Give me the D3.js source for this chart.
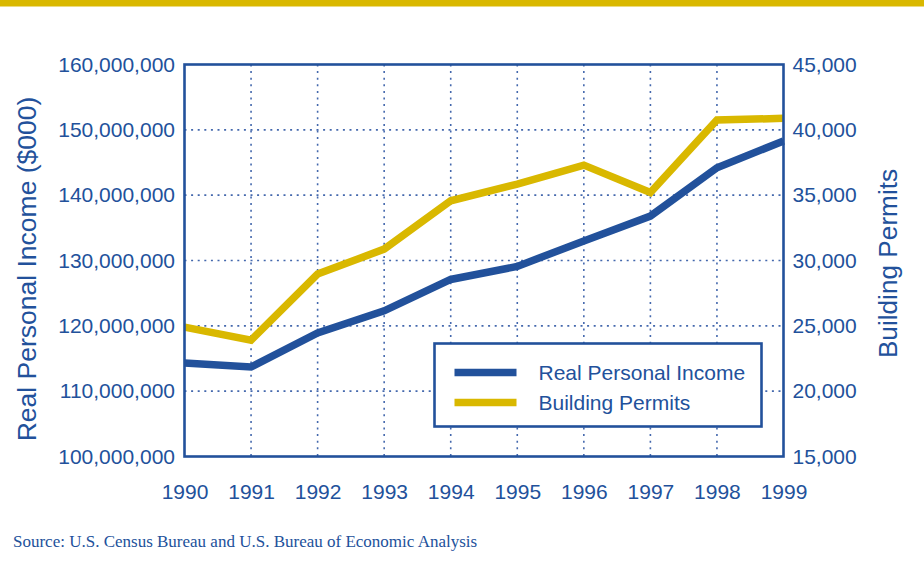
<!DOCTYPE html>
<html>
<head>
<meta charset="utf-8">
<script src="https://cdn.jsdelivr.net/npm/d3@7"></script>
<style>
  body { margin: 0; background: #fff; }
  svg { display: block; font-family: 'Liberation Sans', Arial, sans-serif; }
</style>
</head>
<body>
<div id="chart"></div>
<script>
// values
const years = [1990, 1991, 1992, 1993, 1994, 1995, 1996, 1997, 1998, 1999]
const income = [114300000, 113700000, 118900000, 122300000, 127100000, 129100000, 133000000, 136800000, 144200000, 148300000]
const permits = [24900, 23900, 28960, 30870, 34570, 35850, 37300, 35210, 40750, 40880]
const incomeTicks = [100000000, 110000000, 120000000, 130000000, 140000000, 150000000, 160000000]
const permitTicks = [15000, 20000, 25000, 30000, 35000, 40000, 45000]

const width = 924, height = 561
const blue = '#22519b', gold = '#d9b800', gridBlue = '#4468ad'
const margin = { top: 64.5, right: 140.5, bottom: 104.5, left: 184.5 }

const svg = d3.select('#chart').append('svg')
  .attr('width', width)
  .attr('height', height)

// top band
svg.append('rect')
  .attr('x', 0).attr('y', 0)
  .attr('width', width).attr('height', 6.5)
  .attr('fill', gold)

const x = d3.scaleLinear()
  .domain([1990, 1999])
  .range([margin.left, width - margin.right])

const yL = d3.scaleLinear()
  .domain([100000000, 160000000])
  .range([height - margin.bottom, margin.top])

const yR = d3.scaleLinear()
  .domain([15000, 45000])
  .range([height - margin.bottom, margin.top])

const fmt = d3.format(',')

// dotted grid
const grid = svg.append('g')
  .attr('stroke', gridBlue)
  .attr('stroke-width', 1.6)
  .attr('stroke-dasharray', '2,4.6')

grid.selectAll('line.v')
  .data(years.slice(1, -1))
  .join('line')
    .attr('class', 'v')
    .attr('x1', d => x(d)).attr('x2', d => x(d))
    .attr('y1', yL.range()[1]).attr('y2', yL.range()[0])

grid.selectAll('line.h')
  .data(incomeTicks.slice(1, -1))
  .join('line')
    .attr('class', 'h')
    .attr('y1', d => yL(d)).attr('y2', d => yL(d))
    .attr('x1', x.range()[0]).attr('x2', x.range()[1])

// axes (labels only, frame drawn separately)
const leftAxis = svg.append('g')
  .attr('transform', `translate(${x.range()[0]},0)`)
  .call(d3.axisLeft(yL).tickValues(incomeTicks).tickFormat(fmt).tickSize(0).tickPadding(9.5))
const rightAxis = svg.append('g')
  .attr('transform', `translate(${x.range()[1]},0)`)
  .call(d3.axisRight(yR).tickValues(permitTicks).tickFormat(fmt).tickSize(0).tickPadding(9))
const bottomAxis = svg.append('g')
  .attr('transform', `translate(0,${yL.range()[0]})`)
  .call(d3.axisBottom(x).tickValues(years).tickFormat(d3.format('d')).tickSize(0).tickPadding(28))

;[leftAxis, rightAxis, bottomAxis].forEach(a => {
  a.select('.domain').remove()
  a.selectAll('text')
    .attr('fill', blue)
    .style('font-size', '21px')
    .style('font-family', "'Liberation Sans', Arial, sans-serif")
})
bottomAxis.selectAll('text').attr('dy', '0.71em')

// lines
const lineIncome = d3.line()
  .x((d, i) => x(years[i]))
  .y(d => yL(d))
const linePermits = d3.line()
  .x((d, i) => x(years[i]))
  .y(d => yR(d))

svg.append('path')
  .datum(permits)
  .attr('d', linePermits)
  .attr('fill', 'none')
  .attr('stroke', gold)
  .attr('stroke-width', 7.5)
  .attr('stroke-linejoin', 'miter')

svg.append('path')
  .datum(income)
  .attr('d', lineIncome)
  .attr('fill', 'none')
  .attr('stroke', blue)
  .attr('stroke-width', 7.5)
  .attr('stroke-linejoin', 'miter')

// frame
svg.append('rect')
  .attr('x', x.range()[0]).attr('y', yL.range()[1])
  .attr('width', x.range()[1] - x.range()[0])
  .attr('height', yL.range()[0] - yL.range()[1])
  .attr('fill', 'none')
  .attr('stroke', blue)
  .attr('stroke-width', 2.6)

// axis titles
svg.append('text')
  .attr('transform', `translate(36,${(yL.range()[0] + yL.range()[1]) / 2 + 8.5}) rotate(-90)`)
  .attr('text-anchor', 'middle')
  .attr('fill', blue)
  .style('font-size', '26.5px')
  .text('Real Personal Income ($000)')

svg.append('text')
  .attr('transform', `translate(897,${(yL.range()[0] + yL.range()[1]) / 2 + 3}) rotate(-90)`)
  .attr('text-anchor', 'middle')
  .attr('fill', blue)
  .style('font-size', '26.2px')
  .text('Building Permits')

// legend
const series = [
  { name: 'Real Personal Income', color: blue },
  { name: 'Building Permits', color: gold }
]
const legend = svg.append('g').attr('transform', 'translate(434.5,343.5)')
legend.append('rect')
  .attr('width', 327).attr('height', 83)
  .attr('fill', '#fff')
  .attr('stroke', blue)
  .attr('stroke-width', 2.6)
const item = legend.selectAll('g.item')
  .data(series)
  .join('g')
    .attr('class', 'item')
    .attr('transform', (d, i) => `translate(0,${29 + i * 30})`)
item.append('line')
  .attr('x1', 20).attr('x2', 82)
  .attr('stroke', d => d.color)
  .attr('stroke-width', 7.5)
item.append('text')
  .attr('x', 104)
  .attr('dy', '0.36em')
  .attr('fill', blue)
  .style('font-size', '21px')
  .text(d => d.name)

// source note
svg.append('text')
  .attr('x', 13)
  .attr('y', 547)
  .attr('fill', blue)
  .style('font-family', "'Liberation Serif', 'Times New Roman', serif")
  .style('font-size', '17px')
  .text('Source: U.S. Census Bureau and U.S. Bureau of Economic Analysis')
</script>
</body>
</html>
